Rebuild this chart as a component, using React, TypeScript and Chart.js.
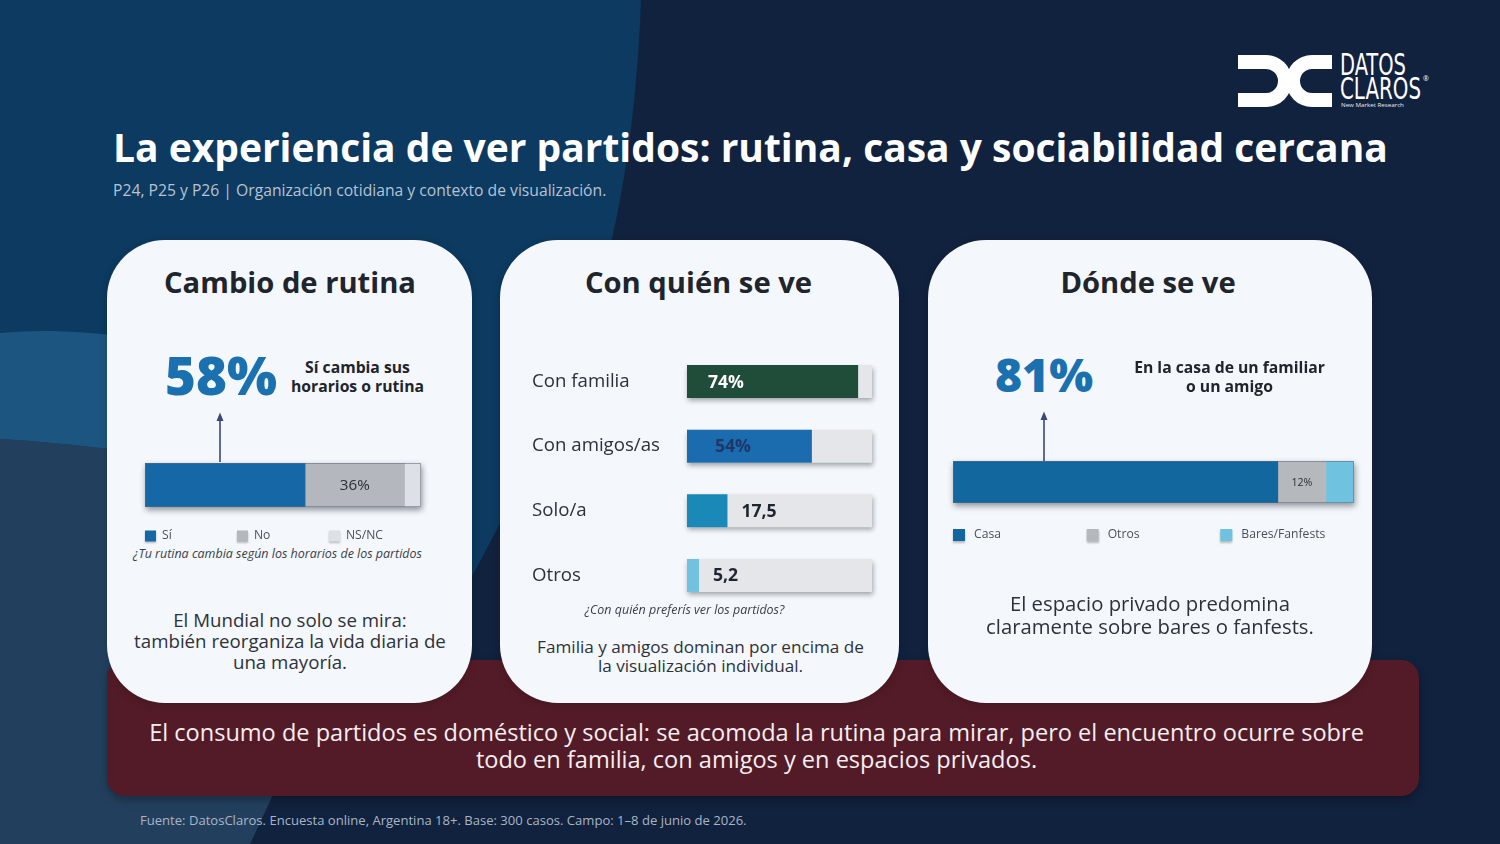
import React, { useEffect, useRef } from 'react';
import { Chart, registerables } from 'chart.js';

Chart.register(...registerables);

// ---------------- DATA ----------------
const ROUTINE_LABELS = ['Sí', 'No', 'NS/NC'];
const ROUTINE_VALUES = [58, 36, 6];

const COMPANY_LABELS = ['Con familia', 'Con amigos/as', 'Solo/a', 'Otros'];
const COMPANY_VALUES = [74, 54, 17.5, 5.2];
const COMPANY_VALUE_TEXT = ['74%', '54%', '17,5', '5,2'];
const COMPANY_AXIS_MAX = 80;

const PLACE_LABELS = ['Casa', 'Otros', 'Bares/Fanfests'];
const PLACE_VALUES = [81, 12, 7];

// ---------------- STYLE ----------------
const FONT = "'Open Sans', 'Noto Sans', sans-serif";
const LOGO_FONT = "'DejaVu Sans Condensed', 'Liberation Sans Narrow', 'Roboto', sans-serif";
const ROUTINE_COLORS = ['#1667a5', '#b4b8be', '#dde0e4'];
const COMPANY_COLORS = ['#1f4d39', '#1b6cae', '#1a89b7', '#70c2df'];
const COMPANY_TEXT_COLORS = ['#ffffff', '#1e3767', '#1f2530', '#1f2530'];
const TRACK_COLOR = '#e4e6ea';
const PLACE_COLORS = ['#13679f', '#b5b8bd', '#6fc3e0'];

const TITLE = 'La experiencia de ver partidos: rutina, casa y sociabilidad cercana';
const SUBTITLE = 'P24, P25 y P26 | Organización cotidiana y contexto de visualización.';
const BANNER = [
  'El consumo de partidos es doméstico y social: se acomoda la rutina para mirar, pero el encuentro ocurre sobre',
  'todo en familia, con amigos y en espacios privados.',
];
const FOOTER = 'Fuente: DatosClaros. Encuesta online, Argentina 18+. Base: 300 casos. Campo: 1–8 de junio de 2026.';

// ---------------- helpers ----------------
let mctx: CanvasRenderingContext2D | null = null;
function em(text: string, weight: number, italic = false, family = FONT) {
  if (!mctx) mctx = document.createElement('canvas').getContext('2d');
  mctx!.font = `${italic ? 'italic ' : ''}${weight} 100px ${family}`;
  return mctx!.measureText(text).width / 100;
}
function fit(text: string, width: number, weight = 400, italic = false, family = FONT) {
  return width / em(text, weight, italic, family);
}

type TP = {
  x: number; y: number; lines: string[]; size: number; gap?: number; weight?: number;
  color: string; align?: 'left' | 'center'; italic?: boolean; family?: string;
};
function Txt({ x, y, lines, size, gap, weight = 400, color, align = 'left', italic = false, family = FONT }: TP) {
  const lh = gap ?? Math.round(size * 1.25);
  const style: React.CSSProperties = {
    position: 'absolute',
    top: y - lh / 2 - 0.06 * size,
    fontFamily: family,
    fontSize: size,
    fontWeight: weight,
    fontStyle: italic ? 'italic' : 'normal',
    color,
    lineHeight: lh + 'px',
    whiteSpace: 'pre',
    margin: 0,
    ...(align === 'center' ? { left: x - 700, width: 1400, textAlign: 'center' as const } : { left: x }),
  };
  return (
    <div style={style}>
      {lines.map((l, i) => (
        <div key={i}>{l}</div>
      ))}
    </div>
  );
}

function ChartBox({ left, top, width, height, make }: { left: number; top: number; width: number; height: number; make: () => any }) {
  const ref = useRef<HTMLCanvasElement>(null);
  useEffect(() => {
    const chart = new Chart(ref.current as HTMLCanvasElement, make());
    return () => chart.destroy();
  }, []);
  return <canvas ref={ref} width={width} height={height} style={{ position: 'absolute', left, top, width, height }} />;
}

function stackedConfig(
  labels: string[], values: number[], colors: string[],
  labelIndex: number, labelSize: number, legendSize: number, legendDy: number,
  boxSize: number, textGap: number, padBottom: number,
) {
  const decor = {
    id: 'stackDecor',
    beforeDatasetsDraw(chart: any) {
      const { ctx, chartArea: a } = chart;
      const el = chart.getDatasetMeta(0).data[0];
      const h = el.height, y0 = el.y - h / 2;
      ctx.save();
      ctx.shadowColor = 'rgba(15,25,40,0.45)';
      ctx.shadowBlur = 6;
      ctx.shadowOffsetY = 3;
      ctx.shadowOffsetX = 1;
      ctx.fillStyle = '#8a9099';
      ctx.fillRect(a.left, y0, a.right - a.left, h);
      ctx.restore();
    },
    afterDraw(chart: any) {
      const { ctx, chartArea: a } = chart;
      const el0 = chart.getDatasetMeta(0).data[0];
      const h = el0.height, y0 = el0.y - h / 2;
      ctx.save();
      ctx.strokeStyle = 'rgba(95,105,120,0.55)';
      ctx.lineWidth = 1;
      ctx.strokeRect(a.left + 0.5, y0 + 0.5, a.right - a.left - 1, h - 1);
      const el = chart.getDatasetMeta(labelIndex).data[0];
      ctx.fillStyle = '#2a2e35';
      ctx.font = `400 ${labelSize}px ${FONT}`;
      ctx.textAlign = 'center';
      ctx.textBaseline = 'middle';
      ctx.fillText(`${values[labelIndex]}%`, (el.x + el.base) / 2, el.y + 1);
      const step = (a.right - a.left) / labels.length;
      labels.forEach((l, i) => {
        const x = a.left + i * step;
        const yc = a.bottom + legendDy;
        ctx.save();
        ctx.shadowColor = 'rgba(0,0,0,0.25)';
        ctx.shadowBlur = 2;
        ctx.shadowOffsetY = 1.5;
        ctx.fillStyle = colors[i];
        ctx.fillRect(x, yc - boxSize / 2, boxSize, boxSize);
        ctx.restore();
        ctx.fillStyle = '#4b505a';
        ctx.font = `400 ${legendSize}px ${FONT}`;
        ctx.textAlign = 'left';
        ctx.textBaseline = 'middle';
        ctx.fillText(l, x + textGap, yc);
      });
      ctx.restore();
    },
  };
  return {
    type: 'bar',
    data: {
      labels: [''],
      datasets: labels.map((l, i) => ({
        label: l,
        data: [values[i]],
        backgroundColor: colors[i],
        borderWidth: 0,
        barPercentage: 1,
        categoryPercentage: 1,
      })),
    },
    options: {
      indexAxis: 'y',
      animation: false,
      responsive: false,
      devicePixelRatio: 1,
      events: [],
      layout: { padding: { left: 10, right: 10, top: 10, bottom: padBottom } },
      scales: {
        x: { stacked: true, display: false, min: 0, max: 100 },
        y: { stacked: true, display: false },
      },
      plugins: { legend: { display: false }, tooltip: { enabled: false } },
    },
    plugins: [decor],
  };
}

function companyConfig(tickSize: number, valueSize: number) {
  const decor = {
    id: 'companyDecor',
    beforeDatasetDraw(chart: any, args: any) {
      if (args.index === 1) {
        const ctx = chart.ctx;
        ctx.save();
        ctx.shadowColor = 'rgba(15,25,40,0.38)';
        ctx.shadowBlur = 5;
        ctx.shadowOffsetY = 3;
        ctx.shadowOffsetX = 1;
      }
    },
    afterDatasetDraw(chart: any, args: any) {
      if (args.index === 1) chart.ctx.restore();
    },
    afterDatasetsDraw(chart: any) {
      const ctx = chart.ctx;
      const meta = chart.getDatasetMeta(0);
      ctx.save();
      ctx.font = `700 ${valueSize}px ${FONT}`;
      ctx.textBaseline = 'middle';
      ctx.textAlign = 'left';
      meta.data.forEach((el: any, i: number) => {
        const inside = COMPANY_VALUES[i] >= 50;
        const x = inside ? el.base + 21 + (i === 1 ? 7 : 0) : el.x + 14;
        ctx.fillStyle = COMPANY_TEXT_COLORS[i];
        ctx.fillText(COMPANY_VALUE_TEXT[i], x, el.y + 1);
      });
      ctx.restore();
    },
  };
  return {
    type: 'bar',
    data: {
      labels: COMPANY_LABELS,
      datasets: [
        {
          data: COMPANY_VALUES,
          backgroundColor: COMPANY_COLORS,
          grouped: false,
          order: 1,
          clip: false,
          barPercentage: 0.51,
          categoryPercentage: 1,
          borderWidth: 0,
        },
        {
          data: COMPANY_LABELS.map(() => COMPANY_AXIS_MAX),
          backgroundColor: TRACK_COLOR,
          grouped: false,
          order: 2,
          clip: false,
          barPercentage: 0.51,
          categoryPercentage: 1,
          borderWidth: 0,
        },
      ],
    },
    options: {
      indexAxis: 'y',
      animation: false,
      responsive: false,
      devicePixelRatio: 1,
      events: [],
      layout: { padding: { left: 10, right: 10, top: 0, bottom: 0 } },
      scales: {
        x: { display: false, min: 0, max: COMPANY_AXIS_MAX },
        y: {
          grid: { display: false },
          border: { display: false },
          ticks: { crossAlign: 'far', padding: 0, color: '#2c313a', font: { family: FONT, size: tickSize, weight: '400', lineHeight: 1.2 } },
          afterFit(s: any) {
            s.width = 155;
          },
        },
      },
      plugins: { legend: { display: false }, tooltip: { enabled: false } },
    },
    plugins: [decor],
  };
}

function Card({ left, width }: { left: number; width: number }) {
  return (
    <div
      style={{
        position: 'absolute',
        left,
        top: 240,
        width,
        height: 463,
        background: '#f4f7fb',
        borderRadius: 58,
        boxShadow: '0 2px 8px rgba(0,0,0,0.18)',
      }}
    />
  );
}

function LogoWord({ text, y, scale, cap }: { text: string; y: number; scale: number; cap: number }) {
  return (
    <div
      style={{
        position: 'absolute', left: 1340, top: y - 11 - cap * 0.04, height: 22, fontFamily: LOGO_FONT, fontSize: cap,
        lineHeight: '22px', color: '#ffffff', transform: `scaleX(${scale})`, transformOrigin: 'left center', whiteSpace: 'pre',
      }}
    >
      {text}
    </div>
  );
}

export default function App() {
  const titleSize = fit(TITLE, 1275, 700);
  const subSize = fit(SUBTITLE, 494, 400);
  const cardTitleSize = fit('Cambio de rutina', 252, 700);
  const big1Size = fit(`${ROUTINE_VALUES[0]}%`, 112, 800);
  const big3Size = fit(`${PLACE_VALUES[0]}%`, 98, 800);
  const sideSize = fit('horarios o rutina', 133, 700);
  const capSize = fit('¿Tu rutina cambia según los horarios de los partidos', 289, 400, true);
  const b1Size = fit('también reorganiza la vida diaria de', 312, 400);
  const b2Size = fit('Familia y amigos dominan por encima de', 327, 400);
  const b3Size = fit('claramente sobre bares o fanfests.', 328, 400);
  const bannerSize = fit(BANNER[0], 1215, 400);
  const footSize = fit(FOOTER, 607, 400);
  const tickSize = fit('Con amigos/as', 128, 400);
  const valueSize = fit('74%', 36, 700);
  const legend1Size = fit('NS/NC', 37, 400);
  const legend3Size = fit('Bares/Fanfests', 84, 400);
  const seg1Size = fit('36%', 30, 400);
  const seg3Size = fit('12%', 21, 400);

  const logoCap = 30;
  const datosScale = 66 / (em('DATOS', 400, false, LOGO_FONT) * logoCap);
  const clarosScale = 81 / (em('CLAROS', 400, false, LOGO_FONT) * logoCap);
  const nmrSize = fit('New Market Research', 63, 400);

  // company chart: category bands from y≈349.6 to y≈608.4; tick labels add ~half a line of padding
  const tickPad = (tickSize * 1.2) / 2;
  const c2Top = 349.6 - tickPad;
  const c2Height = 608.4 + tickPad - c2Top;

  const dark = '#20242c';
  const body = '#2d323a';

  return (
    <div style={{ position: 'fixed', left: 0, top: 0, width: 1500, height: 844, overflow: 'hidden', background: '#11213d' }}>
      <svg width={1500} height={844} style={{ position: 'absolute', left: 0, top: 0 }}>
        <rect width={1500} height={844} fill="#11223e" />
        <path d="M0,0 H641 C637,110 622,215 598,290 C570,380 530,470 470,580 L0,580 Z" fill="#0c3a60" />
        <path d="M0,333 C40,329 80,331 140,338 L140,452 C80,446 40,441 0,439 Z" fill="#1c5680" />
        <path d="M0,439 C40,441 80,446 140,452 L320,620 L272,797 L250,844 L0,844 Z" fill="#22405e" />
        {/* logo */}
        <path d="M1238,55 H1266 A26,26 0 0 1 1266,107 H1238 V93 H1266 A12,12 0 0 0 1266,69 H1238 Z" fill="#ffffff" />
        <path d="M1332,55 H1312 A26,26 0 0 0 1312,107 H1332 V93 H1312 A12,12 0 0 1 1312,69 H1332 Z" fill="#ffffff" />
      </svg>

      <LogoWord text="DATOS" y={66} scale={datosScale} cap={logoCap} />
      <LogoWord text="CLAROS" y={90} scale={clarosScale} cap={logoCap} />
      <div style={{ position: 'absolute', left: 1423, top: 75, fontFamily: FONT, fontSize: 7, lineHeight: '8px', color: '#ffffff' }}>®</div>
      <div style={{ position: 'absolute', left: 1341, top: 101, fontFamily: FONT, fontSize: nmrSize, lineHeight: '7px', color: '#e8edf3', whiteSpace: 'pre' }}>
        New Market Research
      </div>

      <Txt x={113} y={149} lines={[TITLE]} size={titleSize} weight={700} color="#ffffff" />
      <Txt x={113} y={191} lines={[SUBTITLE]} size={subSize} color="#b7c3d3" />

      <div
        style={{
          position: 'absolute', left: 107, top: 660, width: 1312, height: 136, background: '#531b27',
          borderRadius: 18, boxShadow: '0 4px 10px rgba(0,0,0,0.3)',
        }}
      />
      <Card left={107} width={365} />
      <Card left={500} width={399} />
      <Card left={928} width={444} />

      {/* card 1 */}
      <Txt x={290} y={284} lines={['Cambio de rutina']} size={cardTitleSize} weight={700} color={dark} align="center" />
      <Txt x={165} y={378} lines={[`${ROUTINE_VALUES[0]}%`]} size={big1Size} weight={800} color="#1b71b0" />
      <Txt x={357.5} y={368} lines={['Sí cambia sus', 'horarios o rutina']} gap={19} size={sideSize} weight={700} color={dark} align="center" />
      <Txt x={277.5} y={555} lines={['¿Tu rutina cambia según los horarios de los partidos']} size={capSize} italic color="#3a3f48" align="center" />
      <Txt
        x={290} y={621} gap={21}
        lines={['El Mundial no solo se mira:', 'también reorganiza la vida diaria de', 'una mayoría.']}
        size={b1Size} color={body} align="center"
      />
      <ChartBox
        left={135} top={453} width={296} height={100}
        make={() => stackedConfig(ROUTINE_LABELS, ROUTINE_VALUES, ROUTINE_COLORS, 1, seg1Size, legend1Size, 29, 11, 17, 46)}
      />

      {/* card 2 */}
      <Txt x={698.5} y={284} lines={['Con quién se ve']} size={cardTitleSize} weight={700} color={dark} align="center" />
      <ChartBox left={522} top={Math.round(c2Top)} width={360} height={Math.round(c2Height)} make={() => companyConfig(tickSize, valueSize)} />
      <Txt x={684.5} y={611} lines={['¿Con quién preferís ver los partidos?']} size={capSize} italic color="#3a3f48" align="center" />
      <Txt
        x={700.5} y={648} gap={19}
        lines={['Familia y amigos dominan por encima de', 'la visualización individual.']}
        size={b2Size} color={body} align="center"
      />

      {/* card 3 */}
      <Txt x={1148} y={284} lines={['Dónde se ve']} size={cardTitleSize} weight={700} color={dark} align="center" />
      <Txt x={995} y={378} lines={[`${PLACE_VALUES[0]}%`]} size={big3Size} weight={800} color="#1b71b0" />
      <Txt x={1229.5} y={368} lines={['En la casa de un familiar', 'o un amigo']} gap={19} size={sideSize} weight={700} color={dark} align="center" />
      <ChartBox
        left={943} top={451} width={421} height={100}
        make={() => stackedConfig(PLACE_LABELS, PLACE_VALUES, PLACE_COLORS, 1, seg3Size, legend3Size, 32, 12, 21, 48)}
      />
      <Txt
        x={1150} y={605} gap={23}
        lines={['El espacio privado predomina', 'claramente sobre bares o fanfests.']}
        size={b3Size} color={body} align="center"
      />

      {/* banner + footer */}
      <Txt x={756.5} y={734} gap={27} lines={BANNER} size={bannerSize} color="#f6eef0" align="center" />
      <Txt x={140} y={821} lines={[FOOTER]} size={footSize} color="#a9b5c6" />

      <svg width={1500} height={844} style={{ position: 'absolute', left: 0, top: 0, pointerEvents: 'none' }}>
        <line x1={220} y1={462} x2={220} y2={419} stroke="#3c4779" strokeWidth={1.6} />
        <path d="M216.5,421 L220,412.5 L223.5,421 Z" fill="#3c4779" />
        <line x1={1044} y1={461} x2={1044} y2={418} stroke="#3c4779" strokeWidth={1.6} />
        <path d="M1040.5,420 L1044,411.5 L1047.5,420 Z" fill="#3c4779" />
      </svg>
    </div>
  );
}
